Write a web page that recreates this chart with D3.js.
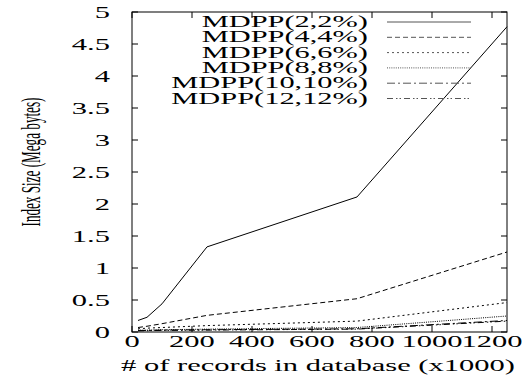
<!DOCTYPE html>
<html><head><meta charset="utf-8">
<script src="https://cdn.jsdelivr.net/npm/d3@7"></script>
<style>body{margin:0;background:#fff}svg{display:block}text{font-family:"Liberation Serif","Times New Roman",serif;fill:#000}</style>
</head><body>
<svg id="c" width="527" height="380"></svg>
<script>
const xValues = [20, 50, 100, 250, 750, 1250];
const seriesNames = ["MDPP(2,2%)", "MDPP(4,4%)", "MDPP(6,6%)", "MDPP(8,8%)", "MDPP(10,10%)", "MDPP(12,12%)"];
const s2 = [0.18, 0.23, 0.44, 1.33, 2.11, 4.77];
const s4 = [0.07, 0.09, 0.13, 0.26, 0.52, 1.25];
const s6 = [0.05, 0.06, 0.07, 0.10, 0.17, 0.46];
const s8 = [0.03, 0.03, 0.035, 0.045, 0.07, 0.25];
const s10 = [0.02, 0.025, 0.03, 0.035, 0.05, 0.18];
const s12 = [0.02, 0.02, 0.025, 0.03, 0.045, 0.17];
const seriesValues = [s2, s4, s6, s8, s10, s12];
const xTicks = [0, 200, 400, 600, 800, 1000, 1200];
const yTicks = [0, 0.5, 1, 1.5, 2, 2.5, 3, 3.5, 4, 4.5, 5];
const dashes = [null, "5,3", "2,3", "1,1.2", "8,3,2,3", "6,3,1.5,2,1.5,3"];

const svg = d3.select("#c");
const L = 132, R = 507, T = 12, B = 332;
const SX = 1.85;
const x = d3.scaleLinear().domain([0, 1250]).range([L, R]);
const y = d3.scaleLinear().domain([0, 5]).range([B, T]);

svg.append("rect").attr("x", L).attr("y", T).attr("width", R - L).attr("height", B - T)
  .attr("fill", "none").attr("stroke", "#000").attr("stroke-width", 1);

const tl = 6;
const g = svg.append("g").attr("stroke", "#000").attr("stroke-width", 1);
xTicks.forEach(t => {
  g.append("line").attr("x1", x(t)).attr("x2", x(t)).attr("y1", B).attr("y2", B - tl);
  g.append("line").attr("x1", x(t)).attr("x2", x(t)).attr("y1", T).attr("y2", T + tl);
});
yTicks.forEach(t => {
  g.append("line").attr("x1", L).attr("x2", L + tl).attr("y1", y(t)).attr("y2", y(t));
  g.append("line").attr("x1", R).attr("x2", R - tl).attr("y1", y(t)).attr("y2", y(t));
});

xTicks.forEach(t => {
  svg.append("g").attr("transform", `translate(${x(t)},347) scale(${SX},1)`)
    .append("text").attr("text-anchor", "middle").attr("font-size", 16.5).text(t);
});
yTicks.forEach(t => {
  svg.append("g").attr("transform", `translate(110,${y(t)}) scale(${SX},1)`)
    .append("text").attr("text-anchor", "end").attr("dy", "0.34em").attr("font-size", 16.5).text(t);
});

svg.append("g").attr("transform", `translate(318,371) scale(${SX},1)`)
  .append("text").attr("text-anchor", "middle").attr("font-size", 16.5).text("# of records in database (x1000)");
svg.append("g").attr("transform", "translate(40,162) rotate(-90) scale(0.47,1)")
  .append("text").attr("text-anchor", "middle").attr("font-size", 28).text("Index Size (Mega bytes)");

const line = d3.line().x((d, i) => x(xValues[i])).y(d => y(d));
seriesValues.forEach((vals, k) => {
  const p = svg.append("path").attr("d", line(vals)).attr("fill", "none")
    .attr("stroke", "#000").attr("stroke-width", 1);
  if (dashes[k]) p.attr("stroke-dasharray", dashes[k]);
});

seriesNames.forEach((n, k) => {
  const ly = 22 + k * 15.3;
  svg.append("g").attr("transform", `translate(368,${ly + 5}) scale(1.9,1)`)
    .append("text").attr("text-anchor", "end").attr("font-size", 16).text(n);
  const p = svg.append("line").attr("x1", 387).attr("x2", 471).attr("y1", ly).attr("y2", ly)
    .attr("stroke", "#555").attr("stroke-width", 1);
  if (dashes[k]) p.attr("stroke-dasharray", dashes[k]);
});
</script>
</body></html>
